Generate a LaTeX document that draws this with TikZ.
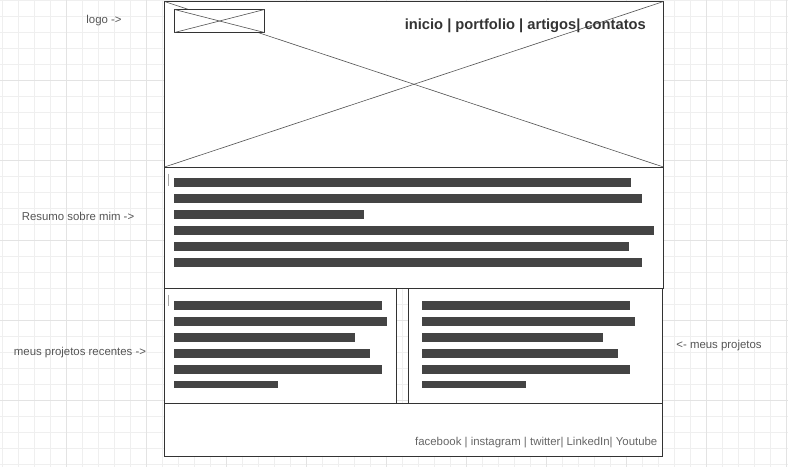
\documentclass[tikz,border=0pt]{standalone}
\usepackage{fontspec}
\setmainfont{Liberation Sans}
\usetikzlibrary{positioning}
\definecolor{wireink}{HTML}{333333}
\definecolor{wirebar}{HTML}{444444}
\definecolor{wirenote}{HTML}{555555}
\definecolor{wirefoot}{HTML}{666666}
\definecolor{gridminor}{HTML}{EFEFEF}
\definecolor{gridmajor}{HTML}{E3E3E3}
\tikzset{
  pane/.style={draw=wireink, line width=1pt, fill=white},
  xline/.style={draw=wireink!85, line width=0.6pt},
  bar/.style={fill=wirebar, draw=none},
  note/.style={font=\fontsize{11.4}{13}\selectfont, text=wirenote, inner sep=0pt},
  foot/.style={font=\fontsize{11.4}{13}\selectfont, text=wirefoot, inner sep=0pt},
  menu/.style={font=\bfseries\fontsize{14.7}{17}\selectfont, text=wireink, inner sep=0pt},
  cursor/.style={draw=black!35, line width=0.9pt},
}

\begin{document}
\begin{tikzpicture}[x=1pt, y=-1pt]
  \useasboundingbox (0,0) rectangle (788,467);
  \fill[white] (0,0) rectangle (788,467);
  % background grid
  \foreach \gx in {2.5,18.5,...,786.5} \draw[gridminor, line width=1pt] (\gx,0) -- (\gx,467);
  \foreach \gy in {0.5,16.5,...,466.5} \draw[gridminor, line width=1pt] (0,\gy) -- (788,\gy);
  \foreach \gx in {66.5,146.5,...,786.5} \draw[gridmajor, line width=1pt] (\gx,0) -- (\gx,467);
  \foreach \gy in {80.5,160.5,...,466.5} \draw[gridmajor, line width=1pt] (0,\gy) -- (788,\gy);

  % header with image placeholder
  \draw[pane] (164.5,1.5) rectangle (663.5,167);
  \draw[xline] (164.5,1.5) -- (663.5,167);
  \draw[xline] (164.5,167) -- (663.5,1.5);
  \draw[pane, line width=0.9pt] (174.5,9.5) rectangle (264.5,32.5);
  \draw[xline] (174.5,9.5) -- (264.5,32.5);
  \draw[xline] (174.5,32.5) -- (264.5,9.5);
  \node[menu, anchor=base east] (nav) at (646,29) {inicio | portfolio | artigos| contatos};

  % about me
  \draw[pane] (164.5,167) rectangle (663.5,288.5);
  \draw[cursor] (168.5,173.5) -- (168.5,185.5);
  \foreach \k/\len in {0/631,1/642,2/364,3/654,4/629,5/642}
    \fill[bar] (174,178+16*\k) rectangle (\len,187+16*\k);

  % recent projects
  \draw[pane] (164.5,288.5) rectangle (396.5,403.5);
  \draw[pane] (408.5,288.5) rectangle (662.5,403.5);
  \draw[cursor] (168.5,294.5) -- (168.5,306);
  \foreach \k/\len in {0/382,1/387,2/355,3/370,4/382}
    \fill[bar] (174,301+16*\k) rectangle (\len,310+16*\k);
  \fill[bar] (174,381) rectangle (278,388);
  \foreach \k/\len in {0/630,1/635,2/603,3/618,4/630}
    \fill[bar] (422,301+16*\k) rectangle (\len,310+16*\k);
  \fill[bar] (422,381) rectangle (526,388);

  % footer
  \draw[pane] (164.5,403.5) rectangle (662.5,456.5);
  \node[foot, anchor=base east] (social) at (657.5,445) {facebook | instagram | twitter| LinkedIn| Youtube};

  % side notes
  \node[note, anchor=base] (nlogo) at (104,23) {logo ->};
  \node[note, anchor=base] (nabout) at (78,220) {Resumo sobre mim ->};
  \node[note, anchor=base] (nrecent) at (80,355.5) {meus projetos recentes ->};
  \node[note, anchor=base] (nproj) at (719,348) {<- meus projetos};
\end{tikzpicture}
\end{document}
